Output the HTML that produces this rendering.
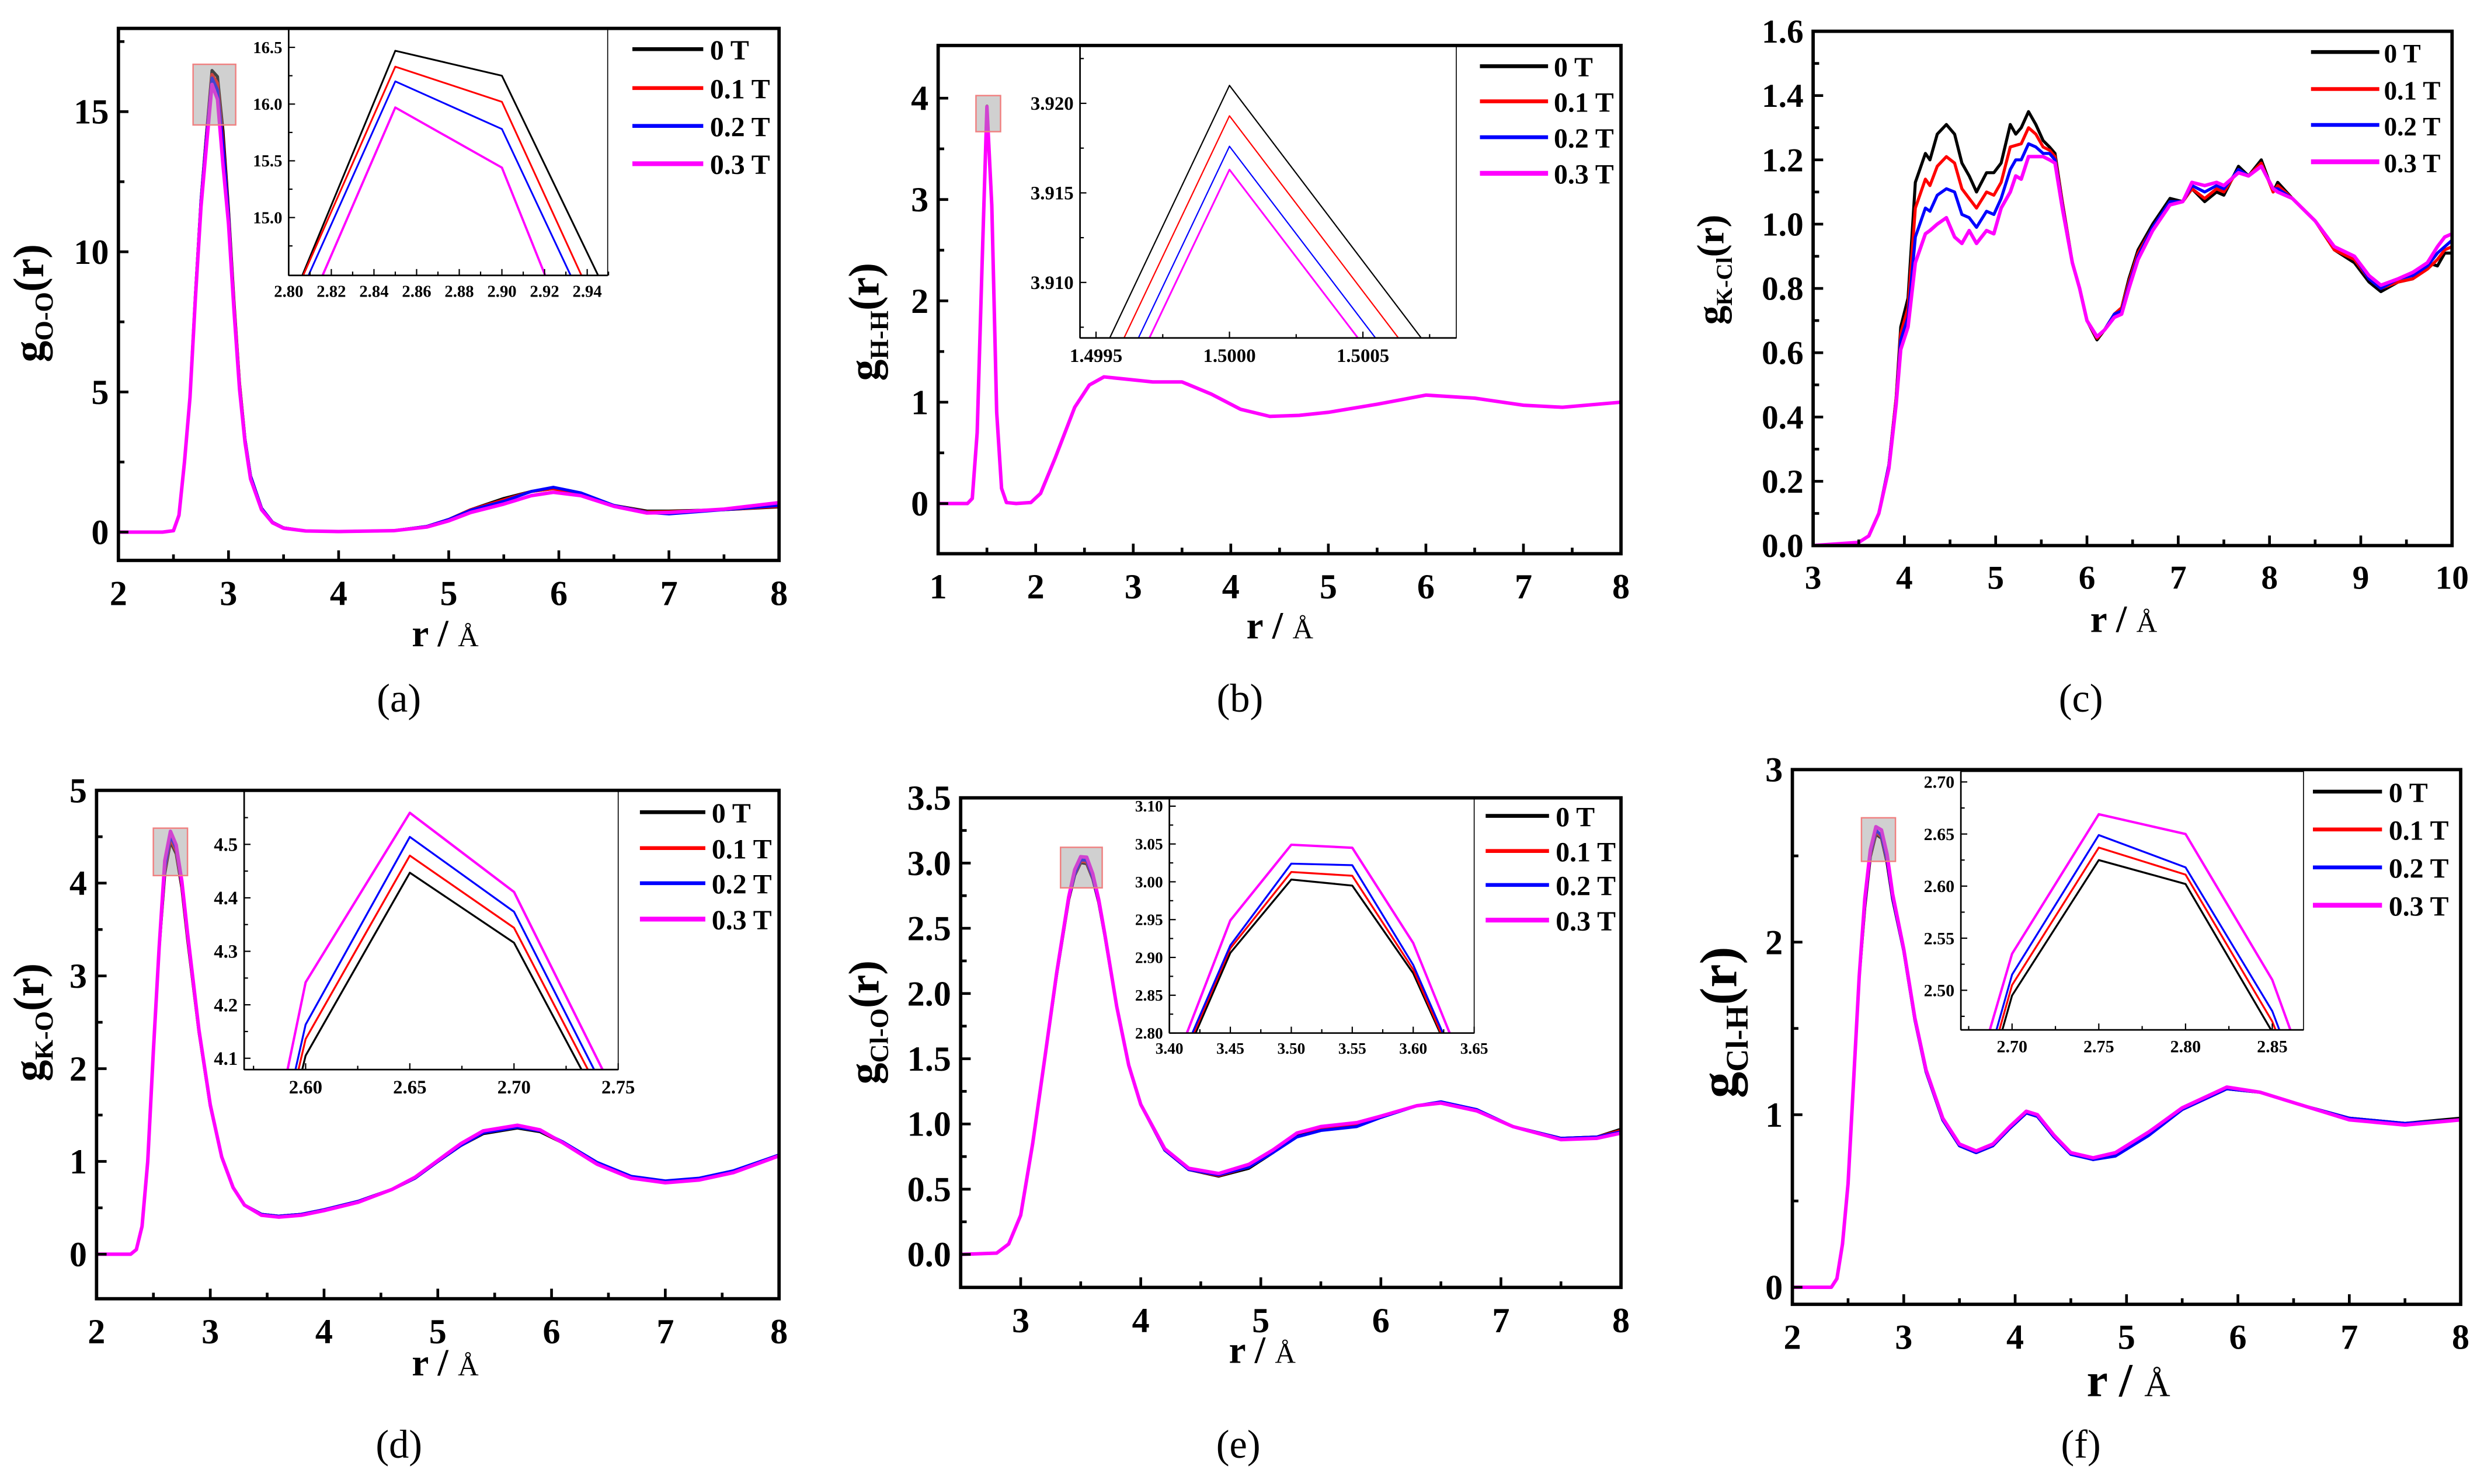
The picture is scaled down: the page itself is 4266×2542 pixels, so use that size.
<!DOCTYPE html>
<html><head><meta charset="utf-8"><title>RDF panels</title>
<style>
html,body{margin:0;padding:0;background:#fff;width:4266px;height:2542px;overflow:hidden;position:relative;}
svg{display:block;position:absolute;left:0;top:0;}
text{font-family:"Liberation Serif",serif;}
</style></head>
<body>
<svg id="fig" xmlns="http://www.w3.org/2000/svg" width="4266" height="2542" viewBox="0 0 1561 930" preserveAspectRatio="none" overflow="hidden"></svg>
<script>
// ---------- data ----------
const seriesLabels = ['0 T','0.1 T','0.2 T','0.3 T'];
// (a) O-O
const aR  = [2.0,2.4,2.5,2.55,2.6,2.65,2.7,2.75,2.8,2.85,2.9,2.95,3.0,3.05,3.1,3.15,3.2,3.3,3.4,3.5,3.7,4.0,4.5,4.8,5.0,5.2,5.5,5.75,5.95,6.2,6.5,6.8,7.0,7.5,8.0];
const aG0 = [0,0,0.05,0.6,2.5,4.8,8.5,11.8,14.2,16.47,16.25,14.3,11.5,8.2,5.3,3.3,2.0,0.85,0.35,0.15,0.04,0.02,0.05,0.2,0.45,0.8,1.2,1.45,1.55,1.35,0.95,0.75,0.75,0.8,0.9];
const aG1 = [0,0,0.05,0.6,2.5,4.8,8.5,11.8,14.2,16.33,16.02,13.97,11.4,8.1,5.3,3.3,2.0,0.85,0.35,0.15,0.04,0.02,0.05,0.2,0.45,0.8,1.15,1.45,1.55,1.35,0.95,0.72,0.73,0.8,0.92];
const aG2 = [0,0,0.05,0.6,2.5,4.8,8.5,11.8,14.1,16.2,15.78,13.78,11.3,8.0,5.2,3.3,2.0,0.85,0.35,0.15,0.04,0.02,0.05,0.2,0.45,0.78,1.1,1.45,1.6,1.4,0.95,0.7,0.65,0.8,0.95];
const aG3 = [0,0,0.05,0.6,2.5,4.8,8.4,11.6,13.8,15.97,15.44,13.1,11.0,7.9,5.1,3.2,1.9,0.8,0.33,0.14,0.04,0.02,0.05,0.18,0.4,0.7,1.0,1.3,1.42,1.3,0.92,0.68,0.7,0.82,1.05];
// (b) H-H
const bR  = [1.0,1.3,1.35,1.4,1.45,1.5,1.55,1.6,1.65,1.7,1.8,1.95,2.05,2.2,2.4,2.55,2.7,2.9,3.2,3.5,3.8,4.1,4.4,4.7,5.0,5.5,6.0,6.5,7.0,7.4,8.0];
const bG0 = [0,0,0.05,0.7,2.35,3.921,2.94,0.9,0.15,0.01,0,0.01,0.1,0.45,0.95,1.17,1.25,1.23,1.2,1.2,1.08,0.93,0.86,0.87,0.9,0.98,1.07,1.04,0.97,0.95,1.0];
const bG1 = [0,0,0.05,0.7,2.35,3.9193,2.94,0.9,0.15,0.01,0,0.01,0.1,0.45,0.95,1.17,1.25,1.23,1.2,1.2,1.08,0.93,0.86,0.87,0.9,0.98,1.07,1.04,0.97,0.95,1.0];
const bG2 = [0,0,0.05,0.7,2.35,3.9176,2.94,0.9,0.15,0.01,0,0.01,0.1,0.45,0.95,1.17,1.25,1.23,1.2,1.2,1.08,0.93,0.86,0.87,0.9,0.98,1.07,1.04,0.97,0.95,1.0];
const bG3 = [0,0,0.05,0.7,2.35,3.9163,2.94,0.9,0.15,0.01,0,0.01,0.1,0.45,0.95,1.17,1.25,1.23,1.2,1.2,1.08,0.93,0.86,0.87,0.9,0.98,1.07,1.04,0.97,0.95,1.0];
// (c) K-Cl
const cR  = [3.0,3.5,3.61,3.72,3.83,3.91,3.96,4.04,4.12,4.23,4.28,4.36,4.46,4.55,4.63,4.71,4.79,4.90,4.98,5.06,5.16,5.22,5.28,5.36,5.44,5.52,5.59,5.65,5.73,5.84,5.92,6.00,6.11,6.19,6.30,6.38,6.46,6.56,6.72,6.91,7.05,7.15,7.29,7.42,7.50,7.66,7.77,7.91,8.04,8.09,8.25,8.50,8.71,8.93,9.09,9.22,9.41,9.57,9.73,9.84,9.92,10.0];
const cG0 = [0,0.01,0.03,0.10,0.25,0.46,0.68,0.77,1.13,1.22,1.20,1.28,1.31,1.28,1.19,1.15,1.10,1.16,1.16,1.19,1.31,1.28,1.30,1.35,1.31,1.26,1.24,1.22,1.07,0.88,0.80,0.70,0.64,0.67,0.72,0.74,0.83,0.92,1.00,1.08,1.07,1.11,1.07,1.10,1.09,1.18,1.15,1.20,1.10,1.13,1.08,1.01,0.92,0.88,0.82,0.79,0.82,0.83,0.88,0.87,0.91,0.91];
const cG1 = [0,0.01,0.03,0.10,0.25,0.46,0.66,0.74,1.05,1.14,1.12,1.18,1.21,1.19,1.11,1.08,1.05,1.10,1.09,1.13,1.24,1.245,1.25,1.30,1.28,1.24,1.23,1.21,1.07,0.88,0.80,0.70,0.645,0.67,0.72,0.74,0.82,0.91,0.99,1.07,1.07,1.11,1.08,1.11,1.10,1.17,1.15,1.19,1.10,1.12,1.08,1.01,0.92,0.89,0.83,0.80,0.82,0.83,0.86,0.89,0.92,0.93];
const cG2 = [0,0.01,0.03,0.10,0.25,0.45,0.64,0.71,0.96,1.05,1.04,1.09,1.11,1.10,1.03,1.02,0.99,1.04,1.03,1.08,1.17,1.20,1.20,1.25,1.24,1.22,1.22,1.20,1.06,0.88,0.80,0.70,0.65,0.67,0.72,0.73,0.81,0.90,0.99,1.07,1.07,1.12,1.10,1.12,1.11,1.17,1.15,1.18,1.11,1.11,1.08,1.01,0.93,0.90,0.83,0.80,0.83,0.84,0.87,0.91,0.93,0.95];
const cG3 = [0,0.01,0.03,0.10,0.24,0.44,0.61,0.68,0.88,0.97,0.98,1.00,1.02,0.96,0.94,0.98,0.94,0.98,0.97,1.05,1.10,1.15,1.14,1.21,1.21,1.21,1.20,1.19,1.05,0.88,0.80,0.70,0.65,0.67,0.71,0.72,0.80,0.89,0.98,1.06,1.07,1.13,1.12,1.13,1.12,1.16,1.15,1.18,1.11,1.10,1.08,1.01,0.93,0.90,0.84,0.81,0.83,0.85,0.88,0.93,0.96,0.97];
// (d) K-O
const dR  = [2.0,2.3,2.35,2.4,2.45,2.5,2.55,2.6,2.65,2.7,2.75,2.8,2.9,3.0,3.1,3.2,3.3,3.45,3.6,3.8,4.0,4.3,4.6,4.8,5.0,5.2,5.4,5.7,5.9,6.1,6.4,6.7,7.0,7.3,7.6,8.0];
const dG0 = [0,0,0.05,0.3,1.0,2.2,3.3,4.105,4.447,4.316,3.95,3.4,2.4,1.6,1.05,0.72,0.53,0.43,0.41,0.43,0.48,0.57,0.7,0.82,1.0,1.17,1.3,1.36,1.32,1.2,0.98,0.83,0.78,0.81,0.89,1.07];
const dG1 = [0,0,0.05,0.3,1.0,2.2,3.3,4.136,4.479,4.344,3.97,3.42,2.4,1.6,1.05,0.72,0.53,0.43,0.41,0.43,0.48,0.57,0.7,0.82,1.0,1.17,1.31,1.37,1.33,1.2,0.98,0.83,0.78,0.81,0.89,1.07];
const dG2 = [0,0,0.05,0.3,1.0,2.2,3.3,4.163,4.514,4.374,3.99,3.44,2.41,1.6,1.05,0.72,0.53,0.43,0.41,0.43,0.48,0.57,0.7,0.82,1.0,1.17,1.31,1.37,1.33,1.21,0.99,0.84,0.79,0.82,0.9,1.07];
const dG3 = [0,0,0.05,0.3,1.0,2.2,3.3,4.242,4.559,4.411,4.02,3.46,2.42,1.61,1.05,0.72,0.53,0.42,0.4,0.42,0.47,0.56,0.7,0.83,1.01,1.19,1.33,1.39,1.34,1.2,0.97,0.82,0.77,0.8,0.88,1.06];
// (e) Cl-O
const eR  = [2.5,2.8,2.9,3.0,3.1,3.2,3.3,3.4,3.45,3.5,3.55,3.6,3.65,3.7,3.8,3.9,4.0,4.2,4.4,4.65,4.9,5.1,5.3,5.5,5.8,6.0,6.3,6.5,6.8,7.1,7.5,7.8,8.0];
const eG0 = [0,0.01,0.08,0.3,0.85,1.5,2.15,2.72,2.906,3.003,2.995,2.879,2.70,2.45,1.9,1.45,1.15,0.8,0.65,0.6,0.66,0.78,0.92,0.97,1.0,1.06,1.14,1.16,1.1,0.98,0.89,0.9,0.96];
const eG1 = [0,0.01,0.08,0.3,0.85,1.5,2.15,2.725,2.912,3.013,3.008,2.884,2.70,2.45,1.9,1.45,1.15,0.8,0.65,0.605,0.67,0.79,0.93,0.97,1.0,1.06,1.14,1.16,1.1,0.98,0.89,0.9,0.95];
const eG2 = [0,0.01,0.08,0.3,0.85,1.5,2.15,2.73,2.916,3.024,3.022,2.890,2.705,2.45,1.9,1.45,1.15,0.8,0.65,0.61,0.67,0.78,0.9,0.95,0.98,1.05,1.14,1.17,1.11,0.98,0.89,0.9,0.94];
const eG3 = [0,0.01,0.08,0.3,0.85,1.5,2.16,2.74,2.949,3.049,3.045,2.919,2.72,2.46,1.9,1.45,1.15,0.81,0.66,0.62,0.69,0.8,0.93,0.98,1.01,1.06,1.14,1.16,1.1,0.98,0.88,0.89,0.93];
// (f) Cl-H
const fR  = [2.0,2.35,2.4,2.45,2.5,2.55,2.6,2.65,2.7,2.75,2.8,2.85,2.9,3.0,3.1,3.2,3.35,3.5,3.65,3.8,3.95,4.1,4.2,4.35,4.5,4.7,4.9,5.2,5.5,5.9,6.2,6.6,7.0,7.5,8.0];
const fG0 = [0,0,0.05,0.25,0.6,1.2,1.8,2.2,2.495,2.625,2.602,2.46,2.25,1.95,1.55,1.25,0.97,0.82,0.78,0.82,0.92,1.01,0.99,0.87,0.78,0.74,0.77,0.89,1.03,1.15,1.13,1.05,0.98,0.95,0.98];
const fG1 = [0,0,0.05,0.25,0.6,1.2,1.8,2.21,2.505,2.637,2.611,2.47,2.26,1.95,1.55,1.25,0.97,0.82,0.78,0.82,0.92,1.01,0.99,0.87,0.78,0.74,0.77,0.89,1.03,1.15,1.13,1.05,0.98,0.95,0.97];
const fG2 = [0,0,0.05,0.25,0.6,1.2,1.8,2.22,2.515,2.649,2.618,2.48,2.26,1.95,1.55,1.25,0.97,0.82,0.78,0.82,0.92,1.01,0.99,0.87,0.77,0.74,0.76,0.88,1.03,1.15,1.13,1.05,0.98,0.95,0.97];
const fG3 = [0,0,0.05,0.25,0.6,1.2,1.8,2.25,2.535,2.669,2.650,2.51,2.28,1.96,1.56,1.26,0.98,0.83,0.79,0.83,0.93,1.02,1.0,0.88,0.78,0.75,0.78,0.9,1.04,1.16,1.13,1.05,0.97,0.94,0.97];

// ---------- helpers ----------
const NS='http://www.w3.org/2000/svg';
const svg=document.getElementById('fig');
const COLORS=['#000000','#ff0000','#0000ff','#ff00ff'];
let clipId=0;
const defs=document.createElementNS(NS,'defs');svg.appendChild(defs);
function mk(tag,parent){const e=document.createElementNS(NS,tag);parent.appendChild(e);return e;}
function set(e,o){for(const k in o)e.setAttribute(k,o[k]);return e;}
function range(a,b,s){const r=[];for(let v=a;v<=b+s*1e-6;v+=s)r.push(+v.toFixed(6));return r;}

function axes(parent,box,x0,x1,y0,y1){
  const sx=v=>box[0]+(v-x0)/(x1-x0)*(box[2]-box[0]);
  const sy=v=>box[3]-(v-y0)/(y1-y0)*(box[3]-box[1]);
  return {sx,sy};
}
function drawSeries(parent,S,xs,ys,width,clip,nameBase){
  ys.forEach((arr,i)=>{
    const p=mk('path',parent);
    
    
    const d=xs.map((x,j)=>(j?'L':'M')+S.sx(x).toFixed(2)+','+S.sy(arr[j]).toFixed(2)).join('');
    set(p,{d:d,fill:'none',stroke:COLORS[i],'stroke-width':width+(i==3?0.3:0),'stroke-linejoin':'round','clip-path':'url(#'+clip+')'});
  });
}
function makeClip(box){
  const id='clip'+(clipId++);
  const cp=mk('clipPath',defs);cp.setAttribute('id',id);
  set(mk('rect',cp),{x:box[0],y:box[1],width:box[2]-box[0],height:box[3]-box[1]});
  return id;
}
function ticks(parent,S,box,xt,xm,yt,ym,fx,fy,fs,len,lw,labOffX,labOffY,namePrefix){
  const g=mk('g',parent);
  
  
  xt.forEach(v=>{const x=S.sx(v);set(mk('line',g),{x1:x,x2:x,y1:box[3],y2:box[3]-len,stroke:'#000','stroke-width':lw});
    const t=mk('text',g);
    set(t,{x:x,y:box[3]+labOffY,'text-anchor':'middle','font-size':fs,'font-weight':'bold'});t.textContent=fx(v);});
  xm.forEach(v=>{const x=S.sx(v);set(mk('line',g),{x1:x,x2:x,y1:box[3],y2:box[3]-len*0.6,stroke:'#000','stroke-width':lw});});
  yt.forEach(v=>{const y=S.sy(v);set(mk('line',g),{x1:box[0],x2:box[0]+len,y1:y,y2:y,stroke:'#000','stroke-width':lw});
    const t=mk('text',g);
    set(t,{x:box[0]-labOffX,y:y+fs*0.34,'text-anchor':'end','font-size':fs,'font-weight':'bold'});t.textContent=fy(v);});
  ym.forEach(v=>{const y=S.sy(v);set(mk('line',g),{x1:box[0],x2:box[0]+len*0.6,y1:y,y2:y,stroke:'#000','stroke-width':lw});});
}

function panel(p){
  const g=mk('g',svg);
  
  
  const S=axes(g,p.box,p.x[0],p.x[1],p.y[0],p.y[1]);
  const cl=makeClip(p.box);
  drawSeries(g,S,p.r,p.g,1.9,cl,'series-'+p.id);
  if(p.hl){
    const h=mk('rect',g);
    set(h,{x:p.hl[0],y:p.hl[1],width:p.hl[2]-p.hl[0],height:p.hl[3]-p.hl[1],fill:'rgba(150,150,150,0.45)',stroke:'#f08080','stroke-width':0.9});
  }
  if(p.inset){
    const q=p.inset;
    const ig=mk('g',g);
    set(mk('rect',ig),{x:q.box[0],y:q.box[1],width:q.box[2]-q.box[0],height:q.box[3]-q.box[1],fill:'#fff',stroke:'#000','stroke-width':0.6});
    const IS=axes(ig,q.box,q.x[0],q.x[1],q.y[0],q.y[1]);
    const icl=makeClip(q.box);
    drawSeries(ig,IS,p.r,p.g,q.lw,icl,'inset-series-'+p.id);
    set(mk('line',ig),{x1:q.box[0],x2:q.box[0],y1:q.box[1],y2:q.box[3],stroke:'#000','stroke-width':1});
    set(mk('line',ig),{x1:q.box[0],x2:q.box[2],y1:q.box[3],y2:q.box[3],stroke:'#000','stroke-width':1});
    ticks(ig,IS,q.box,q.xt,q.xm,q.yt,q.ym,q.fx,q.fy,q.fs,4,0.8,4,q.fs+3,'inset-'+p.id);
  }
  const fr=mk('rect',g);
  set(fr,{x:p.box[0],y:p.box[1],width:p.box[2]-p.box[0],height:p.box[3]-p.box[1],fill:'none',stroke:'#000','stroke-width':2.1});
  ticks(g,S,p.box,p.xt,p.xm,p.yt,p.ym,p.fx,p.fy,p.fs,6.3,1.7,6,p.fs+6,'axis-'+p.id);
  const lg=mk('g',g);
  p.leg.rows.forEach((yy,i)=>{
    const l=mk('line',lg);
    set(l,{x1:p.leg.x1,x2:p.leg.x2,y1:yy,y2:yy,stroke:COLORS[i],'stroke-width':2.4+(i==3?0.6:0)});
    const t=mk('text',lg);
    set(t,{x:p.leg.tx,y:yy+6.5,'font-size':p.leg.fs,'font-weight':'bold'});t.textContent=seriesLabels[i];
  });
  const yt=mk('text',g);
  set(yt,{transform:'translate('+p.ylab[0]+','+p.ylab[1]+') rotate(-90)','text-anchor':'middle','font-weight':'bold','font-size':p.ylab[2]});
  const t1=mk('tspan',yt);t1.textContent='g';
  const t2=mk('tspan',yt);set(t2,{'font-size':p.ylab[2]*0.6,dy:p.ylab[2]*0.22});t2.textContent=p.sub;
  const t3=mk('tspan',yt);set(t3,{dy:-p.ylab[2]*0.22});t3.textContent='(r)';
  const xt=mk('text',g);
  set(xt,{x:p.xlab[0],y:p.xlab[1],'text-anchor':'middle','font-size':p.xlab[2],'font-weight':'bold'});
  const x1=mk('tspan',xt);x1.textContent='r / ';
  const x2=mk('tspan',xt);set(x2,{'font-weight':'normal','font-size':p.xlab[2]*0.75});x2.textContent='Å';
  const pl=mk('text',g);
  set(pl,{x:p.plab[0],y:p.plab[1],'text-anchor':'middle','font-size':25});pl.textContent='('+p.id+')';
}

const int=v=>String(Math.round(v));
const f1=v=>v.toFixed(1), f2=v=>v.toFixed(2), f3=v=>v.toFixed(3), f4=v=>v.toFixed(4);

panel({id:'a',box:[74.2,17.8,488.2,351.2],x:[2,8],y:[-1.01,17.97],r:aR,g:[aG0,aG1,aG2,aG3],sub:'O-O',
  xt:range(2,8,1),xm:range(2.5,7.5,1),yt:[0,5,10,15],ym:[2.5,7.5,12.5,17.5],fx:int,fy:int,fs:22,
  hl:[121,40.3,147.7,78.3],
  inset:{box:[180.9,17.8,380.8,172.6],x:[2.80,2.9496],y:[14.49,16.667],lw:1.1,xt:range(2.80,2.94,0.02),xm:range(2.81,2.95,0.02),yt:[15.0,15.5,16.0,16.5],ym:[14.75,15.25,15.75,16.25],fx:f2,fy:f1,fs:10.5},
  leg:{x1:396.3,x2:440.7,tx:444.9,rows:[30.8,55.2,78.9,102.6],fs:17.5},
  ylab:[27,190,27],xlab:[279,405,24],plab:[250,446]});

panel({id:'b',box:[587.9,28.5,1015.8,347],x:[1,8],y:[-0.495,4.52],r:bR,g:[bG0,bG1,bG2,bG3],sub:'H-H',
  xt:range(1,8,1),xm:range(1.5,7.5,1),yt:[0,1,2,3,4],ym:[0.5,1.5,2.5,3.5],fx:int,fy:int,fs:22,
  hl:[611.6,59.9,627,82.5],
  inset:{box:[676.8,28.5,912.6,211.8],x:[1.49944,1.50085],y:[3.9069,3.92323],lw:0.8,xt:[1.4995,1.5000,1.5005],xm:[1.49975,1.50025,1.50075],yt:[3.910,3.915,3.920],ym:[3.9075,3.9125,3.9175,3.9225],fx:f4,fy:f3,fs:12},
  leg:{x1:927.4,x2:970.1,tx:973.7,rows:[41.5,63.5,86,108.6],fs:17.5},
  ylab:[550.5,201.7,27],xlab:[802,400,24],plab:[777,446]});

panel({id:'c',box:[1136.2,19.6,1536.6,341.9],x:[3,10],y:[0,1.6],r:cR,g:[cG0,cG1,cG2,cG3],sub:'K-Cl',
  xt:range(3,10,1),xm:range(3.5,9.5,1),yt:range(0,1.6,0.2),ym:range(0.1,1.5,0.2),fx:int,fy:f1,fs:21,
  leg:{x1:1448.2,x2:1491,tx:1493.9,rows:[32.6,55.8,78.3,101.4],fs:16.5},
  ylab:[1080,169,24],xlab:[1330.8,396,24],plab:[1304,446]});

panel({id:'d',box:[60.5,495.3,488.2,813.9],x:[2,8],y:[-0.48,5],r:dR,g:[dG0,dG1,dG2,dG3],sub:'K-O',
  xt:range(2,8,1),xm:range(2.5,7.5,1),yt:[0,1,2,3,4,5],ym:[0.5,1.5,2.5,3.5,4.5],fx:int,fy:int,fs:22,
  hl:[96.1,519,117.5,548.7],
  inset:{box:[153,495.3,387.4,670.3],x:[2.5705,2.75],y:[4.0788,4.601],lw:1.2,xt:[2.60,2.65,2.70,2.75],xm:[2.575,2.625,2.675,2.725],yt:[4.1,4.2,4.3,4.4,4.5],ym:[4.15,4.25,4.35,4.45,4.55],fx:f2,fy:f1,fs:12},
  leg:{x1:401,x2:442,tx:446,rows:[509,531.5,553.5,576],fs:17.5},
  ylab:[27,640.7,27],xlab:[279,862,24],plab:[250,913.5]});

panel({id:'e',box:[602,500,1015.8,806.8],x:[2.5,8],y:[-0.253,3.5],r:eR,g:[eG0,eG1,eG2,eG3],sub:'Cl-O',
  xt:range(3,8,1),xm:range(2.5,7.5,1),yt:range(0,3.5,0.5),ym:range(0.25,3.25,0.5),fx:int,fy:f1,fs:22,
  hl:[664.6,531,690.7,556.4],
  inset:{box:[732.8,500,923.8,647.4],x:[3.40,3.65],y:[2.80,3.111],lw:1.2,xt:range(3.40,3.65,0.05),xm:range(3.425,3.625,0.05),yt:range(2.80,3.10,0.05),ym:range(2.825,3.075,0.05),fx:f2,fy:f2,fs:10},
  leg:{x1:931,x2:970.7,tx:974.9,rows:[511.3,533.3,554.6,576.6],fs:17.5},
  ylab:[550.5,640.7,27],xlab:[791,854,24],plab:[776,913.5]});

panel({id:'f',box:[1123.2,482.3,1542,817.4],x:[2,8],y:[-0.099,3],r:fR,g:[fG0,fG1,fG2,fG3],sub:'Cl-H',
  xt:range(2,8,1),xm:range(2.5,7.5,1),yt:[0,1,2,3],ym:[0.5,1.5,2.5],fx:int,fy:int,fs:22,
  hl:[1166.5,512.5,1187.8,539.8],
  inset:{box:[1228.8,483.5,1443.5,645.4],x:[2.6705,2.868],y:[2.462,2.71],lw:1.2,xt:[2.70,2.75,2.80,2.85],xm:[2.675,2.725,2.775,2.825],yt:[2.50,2.55,2.60,2.65,2.70],ym:[2.475,2.525,2.575,2.625,2.675],fx:f2,fy:f2,fs:11},
  leg:{x1:1449.4,x2:1492.7,tx:1496.9,rows:[496.1,519.8,543.6,567.3],fs:17.5},
  ylab:[1088,640.7,33],xlab:[1333.8,875,30],plab:[1304,913.5]});
</script>
</body></html>
